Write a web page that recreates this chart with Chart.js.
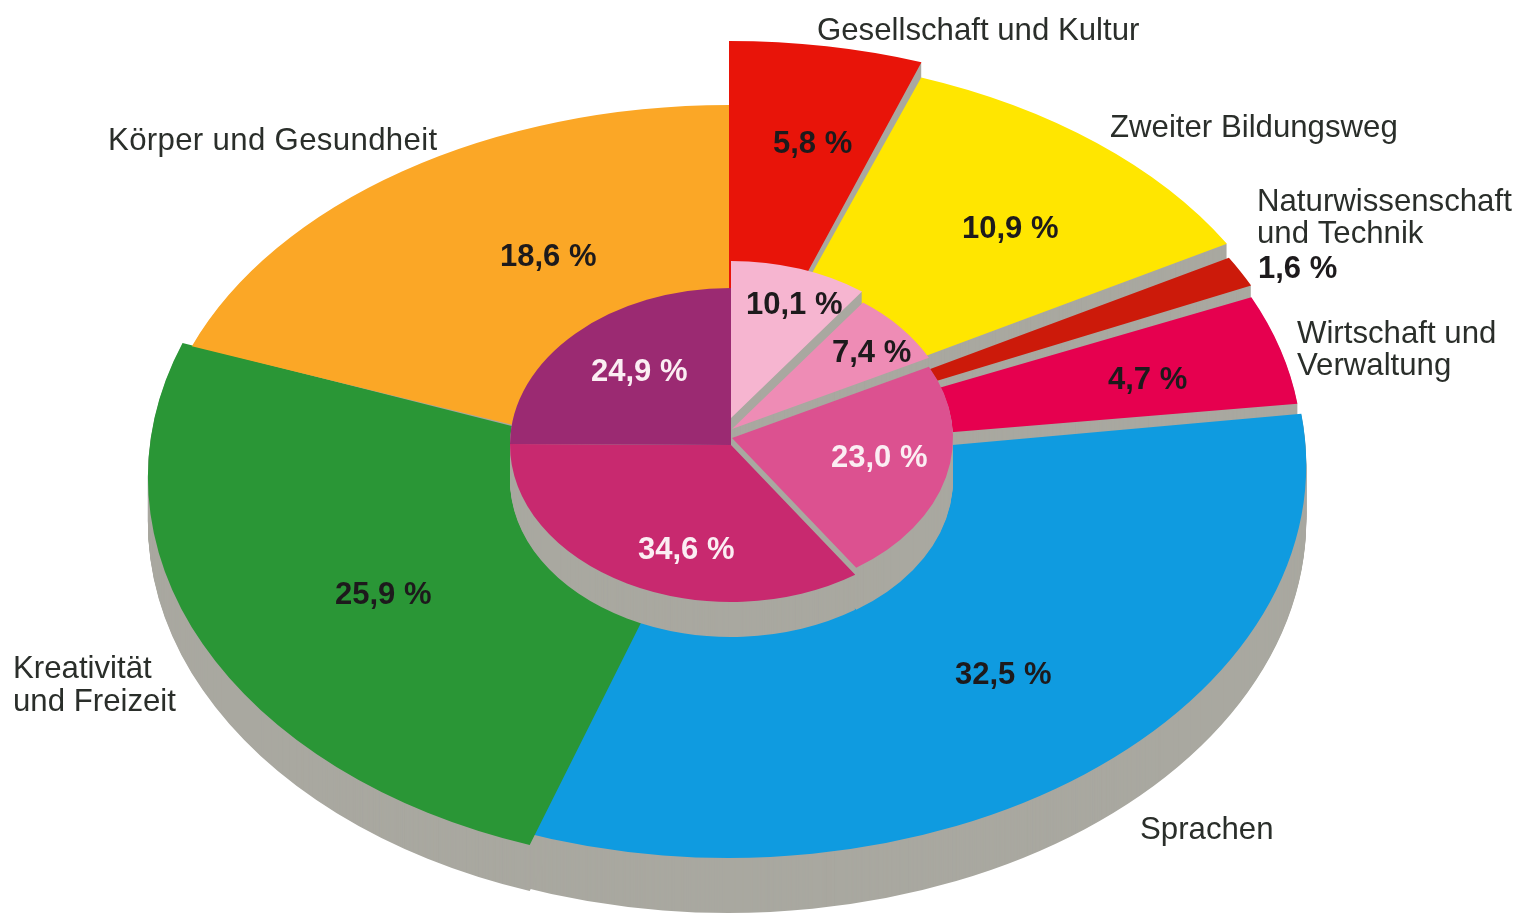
<!DOCTYPE html>
<html lang="de">
<head>
<meta charset="utf-8">
<title>Kursbelegung</title>
<style>html,body{margin:0;padding:0;background:#fff}canvas{display:block}</style>
<script src="https://cdn.jsdelivr.net/npm/chart.js@4/dist/chart.umd.js"></script>
</head>
<body>
<canvas id="c" width="1530" height="913"></canvas>
<script>
// ---- data ----
const outerCategories = ['Gesellschaft und Kultur','Zweiter Bildungsweg','Naturwissenschaft und Technik','Wirtschaft und Verwaltung','Sprachen','Kreativität und Freizeit','Körper und Gesundheit'];
const outerValues = [5.8, 10.9, 1.6, 4.7, 32.5, 25.9, 18.6];
const innerValues = [10.1, 7.4, 23.0, 34.6, 24.9];

// ---- styling ----
const outerColors = ['#e81409','#ffe600','#cc1a0a','#e6004f','#0f9be0','#2a9636','#fba726'];
const innerColors = ['#f6b5d0','#ee8cb5','#dc5190','#c8296f','#9b2a72'];
const sideColor = '#a9a8a0';
const inkColor = '#2a2e2a';

// projected disc: centre, radii; per slice: pull-out px, angle trim deg, radius scale, side depth px
const outerDisc = {cx:729, cy:481, rx:580, ry:376,
  shift:[[0,-64],[-5,-50],[-3,-36],[-7,-30],[-1,-16],[-15,-4],[0,-3]],
  trim:[[0,-1.5],[-1,0],[0,-1],[0,0],[-0.3,1.5],[-0.8,-2.9],[-2.34,0]],
  scale:[[1,1],[1,1],[1,1],[1,1],[0.997,1.045],[0.976,1.035],[0.99,0.992]],
  depth:[22,55,55,55,55,46,4]};
const innerDisc = {cx:731, cy:445, rx:221, ry:157,
  shift:[[0,-27],[1,-16],[1,-7],[0,0],[0,0]],
  trim:[[0,0],[0,0],[0,0],[0,0],[0,0]],
  scale:[[1,1],[1,1],[1,1],[1,1],[1,1]],
  depth:[62,51,42,35,35]};

// text placement (left x, baseline y, extra tracking px)
const categoryText = [
  {t:'Gesellschaft und Kultur', x:817, y:40, ls:0},
  {t:'Zweiter Bildungsweg', x:1110, y:137, ls:0},
  {t:'Naturwissenschaft', x:1257, y:211, ls:0},
  {t:'und Technik', x:1257, y:243, ls:0},
  {t:'Wirtschaft und', x:1297, y:343, ls:0},
  {t:'Verwaltung', x:1297, y:375, ls:0},
  {t:'Körper und Gesundheit', x:108, y:150, ls:0.33},
  {t:'Kreativität', x:13, y:678, ls:0},
  {t:'und Freizeit', x:13, y:711, ls:0},
  {t:'Sprachen', x:1140, y:839, ls:0}
];
const outerValueText = [[773,153],[962,238],[1258,278],[1108,389],[955,684],[335,604],[500,266]];
const innerValueText = [[746,314],[832,362],[831,467],[638,559],[591,381]];
const innerValueInk = ['#1d1a1c','#1d1a1c','#fbeef3','#fbeef3','#fbeef3'];

const fmt = v => v.toFixed(1).replace('.', ',') + ' %';
const deg = Math.PI / 180;

class TiltedPie extends Chart.DoughnutController {
  draw() {
    const ctx = this.chart.ctx, meta = this._cachedMeta, arcs = meta.data;
    const disc = this.getDataset().disc;
    if (!arcs.length) return;
    const a0 = arcs[0];
    const sx = disc.rx / a0.outerRadius, sy = disc.ry / a0.outerRadius;
    const place = (i, dy) => {
      const s = disc.shift[i], k = disc.scale[i];
      ctx.translate(disc.cx + s[0], disc.cy + s[1] + dy);
      ctx.scale(sx * k[0], sy * k[1]);
      ctx.translate(-a0.x, -a0.y);
    };
    const paint = (arc, i) => {
      const st = arc.startAngle, en = arc.endAngle, t = disc.trim[i];
      arc.startAngle = st + t[0] * deg;
      arc.endAngle = en + t[1] * deg;
      arc.draw(ctx);
      arc.startAngle = st; arc.endAngle = en;
    };
    // side walls first
    arcs.forEach((arc, i) => {
      const saved = arc.options, o = Object.create(saved);
      o.backgroundColor = sideColor; o.borderWidth = 0;
      arc.options = o;
      for (let d = disc.depth[i]; d >= 1; d--) {
        ctx.save(); place(i, d); paint(arc, i); ctx.restore();
      }
      arc.options = saved;
    });
    // top faces
    arcs.forEach((arc, i) => {
      ctx.save(); place(i, 0); paint(arc, i); ctx.restore();
    });
  }
}
TiltedPie.id = 'tiltedPie';
TiltedPie.defaults = Chart.DoughnutController.defaults;
TiltedPie.overrides = Chart.DoughnutController.overrides;
Chart.register(TiltedPie);

const textPlugin = {
  id: 'pieText',
  afterDraw(chart) {
    const ctx = chart.ctx;
    ctx.save();
    ctx.textAlign = 'left';
    ctx.textBaseline = 'alphabetic';
    ctx.fillStyle = inkColor;
    ctx.font = '31.2px "Liberation Sans"';
    categoryText.forEach(c => {
      ctx.letterSpacing = c.ls + 'px';
      ctx.fillText(c.t, c.x, c.y);
    });
    ctx.letterSpacing = '0px';
    ctx.font = 'bold 31px "Liberation Sans"';
    ctx.fillStyle = '#1d1a1c';
    outerValues.forEach((v, i) => ctx.fillText(fmt(v), outerValueText[i][0], outerValueText[i][1]));
    innerValues.forEach((v, i) => {
      ctx.fillStyle = innerValueInk[i];
      ctx.fillText(fmt(v), innerValueText[i][0], innerValueText[i][1]);
    });
    ctx.restore();
  }
};

new Chart(document.getElementById('c'), {
  type: 'tiltedPie',
  data: {
    labels: outerCategories,
    datasets: [
      {data: outerValues, backgroundColor: outerColors, borderWidth: 0, weight: 3, order: 1, clip: false, disc: outerDisc},
      {data: innerValues, backgroundColor: innerColors, borderWidth: 0, weight: 1, order: 0, clip: false, disc: innerDisc}
    ]
  },
  options: {
    responsive: false,
    animation: false,
    cutout: 0,
    layout: {padding: 0},
    plugins: {legend: {display: false}, tooltip: {enabled: false}}
  },
  plugins: [textPlugin]
});
</script>
</body>
</html>
